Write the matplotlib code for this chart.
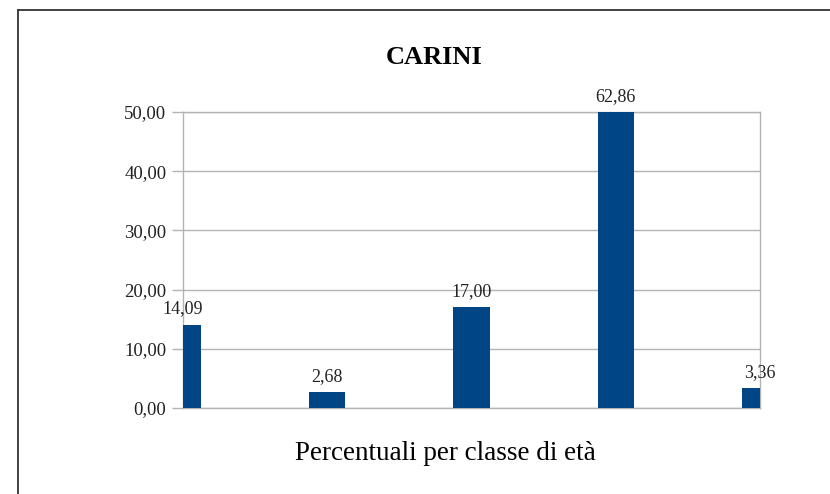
import matplotlib.pyplot as plt
from matplotlib.lines import Line2D

# dati
classi = ["0-14", "15-24", "25-44", "45-64", "65+"]
valori = [14.09, 2.68, 17.00, 62.86, 3.36]
yticks = [0, 10, 20, 30, 40, 50]

blu = "#004586"
grigio = "#b3b3b3"
plt.rcParams['font.family'] = ['Liberation Serif', 'DejaVu Serif']

fig = plt.figure(figsize=(8.3, 4.94), dpi=100)
ax = fig.add_axes([183/830, 86/494, 577/830, 296/494])

x = list(range(len(classi)))
ax.bar(x, valori, width=0.25, color=blu, zorder=3)
ax.set_xlim(0, len(classi) - 1)
ax.set_ylim(0, 50)

for xi, v in zip(x, valori):
    ax.annotate(f"{v:.2f}".replace(".", ","), (xi, min(v, 50)),
                xytext=(0, 8), textcoords="offset points",
                ha="center", va="baseline", fontsize=13, color="#222222",
                annotation_clip=False, zorder=5)

ax.set_yticks(yticks)
ax.set_yticklabels([f"{t:.2f}".replace(".", ",") for t in yticks], fontsize=13.5, color="#222222")
ax.set_xticks([])
ax.tick_params(axis="y", length=8, color=grigio, width=1, pad=4)
ax.grid(axis="y", color=grigio, linewidth=1, zorder=0)
for s in ax.spines.values():
    s.set_color(grigio)
    s.set_linewidth(1)

fig.text(434/830, 1 - 57/494, "CARINI", ha="center", va="center",
         fontsize=19, fontweight="bold")
fig.text(445/830, 1 - 453/494, "Percentuali per classe di età", ha="center", va="center",
         fontsize=19.5)

# cornice esterna
fig.add_artist(Line2D([18/830, 18/830], [0, 1 - 10/494], color="#333333", lw=1.3))
fig.add_artist(Line2D([18/830, 1], [1 - 10/494, 1 - 10/494], color="#333333", lw=1.3))

fig.savefig("out.png", dpi=100)
